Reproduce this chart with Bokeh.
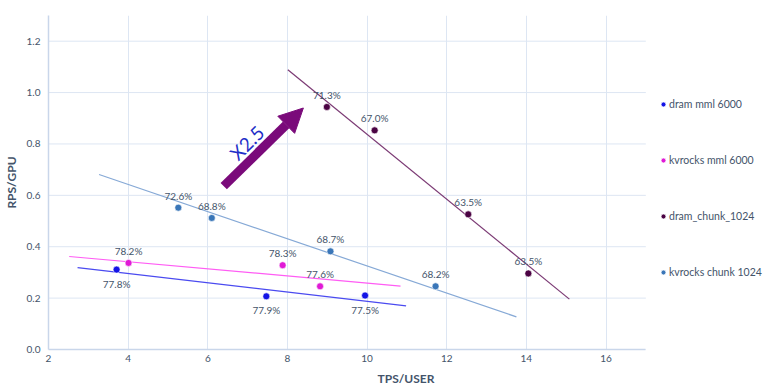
from bokeh.plotting import figure
from bokeh.models import Legend, LegendItem, Arrow, NormalHead, FixedTicker, Range1d, PrintfTickFormatter
from bokeh.core.properties import value
from bokeh.embed import file_html
from bokeh.resources import INLINE

# ---- data ----
series_names = ["dram mml 6000", "kvrocks mml 6000", "dram_chunk_1024", "kvrocks chunk 1024"]

dram_mml_x = [3.71, 7.47, 9.95]
dram_mml_y = [0.311, 0.207, 0.210]
dram_mml_labels = ["77.8%", "77.9%", "77.5%"]

kv_mml_x = [4.01, 7.88, 8.82]
kv_mml_y = [0.337, 0.328, 0.246]
kv_mml_labels = ["78.2%", "78.3%", "77.6%"]

dram_chunk_x = [8.99, 10.19, 12.54, 14.05]
dram_chunk_y = [0.944, 0.853, 0.526, 0.296]
dram_chunk_labels = ["71.3%", "67.0%", "63.5%", "63.5%"]

kv_chunk_x = [5.26, 6.10, 9.08, 11.72]
kv_chunk_y = [0.552, 0.512, 0.382, 0.246]
kv_chunk_labels = ["72.6%", "68.8%", "68.7%", "68.2%"]

# trend lines (start / end)
dram_mml_trend_x = [2.73, 10.98]
dram_mml_trend_y = [0.319, 0.170]
kv_mml_trend_x = [2.52, 10.84]
kv_mml_trend_y = [0.362, 0.247]
dram_chunk_trend_x = [8.01, 15.08]
dram_chunk_trend_y = [1.089, 0.196]
kv_chunk_trend_x = [3.27, 13.75]
kv_chunk_trend_y = [0.681, 0.127]

# annotation arrow and text
arrow_x = [6.40, 8.40]
arrow_y = [0.636, 0.940]
note_text = ["X2.5"]
note_x = [6.98]
note_y = [0.805]

x_min, x_max = 2, 17
y_min, y_max = 0, 1.3
x_ticks = [2, 4, 6, 8, 10, 12, 14, 16]
y_ticks = [0.0, 0.2, 0.4, 0.6, 0.8, 1.0, 1.2]

# ---- layout / styling ----
W, H = 763, 390
LEFT, TOP, BOTTOM = 46, 15, 41
PLOT_W = 599                      # pixel width of the x_min..x_max area
px_per_unit = PLOT_W / (x_max - x_min)
x_view_end = x_min + (W - LEFT) / px_per_unit   # frame extends under the legend

FONT = "Lato"
TXT = "#44546a"
GRID = "#dde6f3"
AXIS = "#c9d6ea"

point_colors = ["#1414e6", "#e01ad6", "#4b0343", "#3a76b8"]
trend_colors = ["#4a4af0", "#ff5cf4", "#7b3a74", "#86a9d6"]

p = figure(width=W, height=H, x_range=Range1d(x_min, x_view_end), y_range=Range1d(y_min, y_max),
           output_backend="svg", toolbar_location=None,
           min_border_left=LEFT, min_border_right=0, min_border_top=TOP, min_border_bottom=BOTTOM)
p.outline_line_color = None
p.background_fill_color = "white"

p.xaxis.ticker = FixedTicker(ticks=x_ticks)
p.yaxis.ticker = FixedTicker(ticks=y_ticks)
p.yaxis.formatter = PrintfTickFormatter(format="%.1f")
for ax in (p.xaxis[0], p.yaxis[0]):
    ax.axis_line_color = AXIS
    ax.axis_line_width = 1.5
    ax.major_tick_line_color = None
    ax.minor_tick_line_color = None
    ax.major_tick_out = 0
    ax.major_tick_in = 0
    ax.minor_tick_out = 0
    ax.minor_tick_in = 0
    ax.major_label_text_font = FONT
    ax.major_label_text_font_size = "10px"
    ax.major_label_text_color = TXT
    ax.axis_label_text_font = FONT
    ax.axis_label_text_font_size = "12px"
    ax.axis_label_text_font_style = "bold"
    ax.axis_label_text_color = TXT
p.xaxis.bounds = (x_min, x_max)
p.xaxis.axis_label = "TPS/USER"
p.yaxis.axis_label = "RPS/GPU"
p.xaxis.major_label_standoff = 5
p.yaxis.major_label_standoff = 8
p.xaxis.axis_label_standoff = 6
p.yaxis.axis_label_standoff = 5

p.xgrid.grid_line_color = GRID
p.xgrid.ticker = FixedTicker(ticks=x_ticks)
p.ygrid.grid_line_color = None
# horizontal grid lines only across x_min..x_max
p.segment(x0=[x_min] * len(y_ticks), x1=[x_max] * len(y_ticks), y0=y_ticks, y1=y_ticks,
          line_color=GRID, line_width=1)

series = [
    (dram_mml_x, dram_mml_y, dram_mml_labels, dram_mml_trend_x, dram_mml_trend_y, 14),
    (kv_mml_x, kv_mml_y, kv_mml_labels, kv_mml_trend_x, kv_mml_trend_y, -12),
    (dram_chunk_x, dram_chunk_y, dram_chunk_labels, dram_chunk_trend_x, dram_chunk_trend_y, -12),
    (kv_chunk_x, kv_chunk_y, kv_chunk_labels, kv_chunk_trend_x, kv_chunk_trend_y, -12),
]

items = []
for i, (xs, ys, labs, tx, ty, off) in enumerate(series):
    p.line(tx, ty, line_color=trend_colors[i], line_width=1.2)
    r = p.scatter(xs, ys, size=7, fill_color=point_colors[i], line_color="white", line_width=0.6)
    p.text(xs, ys, text=labs, text_font=value(FONT), text_font_size="10px", text_color=TXT,
           text_align="center", text_baseline="middle", y_offset=off)
    items.append(LegendItem(label=series_names[i], renderers=[r]))

arrow = Arrow(end=NormalHead(size=24, fill_color="#7a0a7a", line_color="#7a0a7a"),
              x_start=arrow_x[0], y_start=arrow_y[0], x_end=arrow_x[1], y_end=arrow_y[1],
              line_color="#7a0a7a", line_width=9)
p.add_layout(arrow)

p.text(note_x, note_y, text=note_text, text_font=value(FONT), text_font_size="19px",
       text_color="#1f2fc8", angle=0.78, text_align="center", text_baseline="middle")

legend = Legend(items=items, location=(PLOT_W + 10, 67), padding=0, margin=0,
                glyph_width=12, glyph_height=20, label_height=20, label_standoff=0, spacing=36,
                label_text_font=FONT, label_text_font_size="10.5px", label_text_color=TXT,
                background_fill_alpha=0, border_line_color=None)
p.add_layout(legend)

open("out.html", "w").write(file_html(p, INLINE))
